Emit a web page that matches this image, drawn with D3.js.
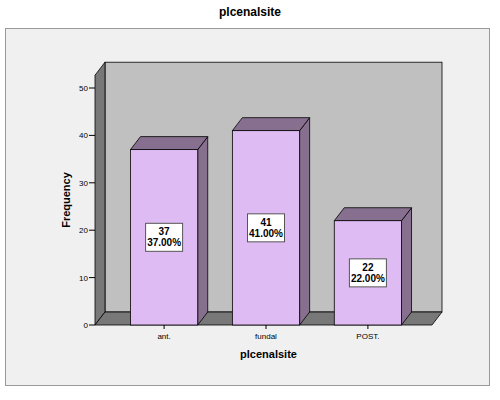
<!DOCTYPE html>
<html><head><meta charset="utf-8">
<script src="https://cdn.jsdelivr.net/npm/d3@7"></script>
<style>body{margin:0;background:#fff}text{font-family:Arial,"Liberation Sans",sans-serif}</style>
</head><body>
<svg id="chart" width="500" height="400"></svg>
<script>
const categories = ["ant.", "fundal", "POST."];
const counts = [37, 41, 22];
const percents = ["37.00%", "41.00%", "22.00%"];
const yTicks = [0, 10, 20, 30, 40, 50];

const svg = d3.select("#chart");
const dx = 10, dy = -13;
const x0 = 95, x1 = 432;
const y = d3.scaleLinear().domain([0, 50]).range([325, 88]);
const x = d3.scaleBand().domain(categories).range([x0 + 10, x1 - 5]).paddingInner(0.34).paddingOuter(0.25);

svg.append("rect").attr("x", 5.5).attr("y", 28.5).attr("width", 484).attr("height", 357)
  .attr("fill", "#f0f0f0").attr("stroke", "#999");
svg.append("text").attr("x", 250).attr("y", 16).attr("text-anchor", "middle")
  .attr("font-size", 12).attr("font-weight", "bold").text("plcenalsite");

const wallTop = y(52.7);
// back wall
svg.append("rect").attr("x", x0 + dx).attr("y", wallTop + dy).attr("width", x1 - x0)
  .attr("height", y(0) - wallTop).attr("fill", "#c0c0c0").attr("stroke", "#000").attr("stroke-width", 0.8);
// left wall
svg.append("path").attr("d", `M${x0},${y(0)}L${x0},${wallTop}L${x0+dx},${wallTop+dy}L${x0+dx},${y(0)+dy}Z`)
  .attr("fill", "#787878").attr("stroke", "#000").attr("stroke-width", 0.8);
// floor
svg.append("path").attr("d", `M${x0},${y(0)}L${x1},${y(0)}L${x1+dx},${y(0)+dy}L${x0+dx},${y(0)+dy}Z`)
  .attr("fill", "#787878").attr("stroke", "#000").attr("stroke-width", 0.8);

// y axis
const yAxis = svg.append("g");
yTicks.forEach(t => {
  yAxis.append("line").attr("x1", x0 - 6).attr("x2", x0).attr("y1", y(t)).attr("y2", y(t)).attr("stroke", "#000");
  yAxis.append("text").attr("x", x0 - 7).attr("y", y(t) + 3).attr("text-anchor", "end")
    .attr("font-size", 8).text(t);
});
svg.append("text").attr("transform", `translate(70,200) rotate(-90)`).attr("text-anchor", "middle")
  .attr("font-size", 11).attr("font-weight", "bold").text("Frequency");

// bars
categories.forEach((c, i) => {
  const bx = x(c), bw = x.bandwidth(), by = y(counts[i]), b0 = y(0);
  const g = svg.append("g").attr("stroke", "#000").attr("stroke-width", 0.8);
  g.append("path").attr("d", `M${bx+bw},${b0}L${bx+bw},${by}L${bx+bw+dx},${by+dy}L${bx+bw+dx},${b0+dy}Z`).attr("fill", "#87708f");
  g.append("path").attr("d", `M${bx},${by}L${bx+bw},${by}L${bx+bw+dx},${by+dy}L${bx+dx},${by+dy}Z`).attr("fill", "#87708f");
  g.append("rect").attr("x", bx).attr("y", by).attr("width", bw).attr("height", b0 - by).attr("fill", "#dfbbf3");
  const cy = (by + b0) / 2;
  svg.append("rect").attr("x", bx + bw / 2 - 18.5).attr("y", cy - 14).attr("width", 37).attr("height", 28)
    .attr("fill", "#fff").attr("stroke", "#555");
  svg.append("text").attr("x", bx + bw / 2).attr("y", cy - 2).attr("text-anchor", "middle")
    .attr("font-size", 10).attr("font-weight", "bold").text(counts[i]);
  svg.append("text").attr("x", bx + bw / 2).attr("y", cy + 9).attr("text-anchor", "middle")
    .attr("font-size", 10).attr("font-weight", "bold").text(percents[i]);
  svg.append("line").attr("x1", bx + bw / 2).attr("x2", bx + bw / 2).attr("y1", b0).attr("y2", b0 + 4).attr("stroke", "#000");
  svg.append("text").attr("x", bx + bw / 2).attr("y", b0 + 14).attr("text-anchor", "middle")
    .attr("font-size", 8).text(c);
});
svg.append("text").attr("x", x0 + (x1 - x0) / 2 + 5).attr("y", 358).attr("text-anchor", "middle")
  .attr("font-size", 11).attr("font-weight", "bold").text("plcenalsite");
</script>
</body></html>
